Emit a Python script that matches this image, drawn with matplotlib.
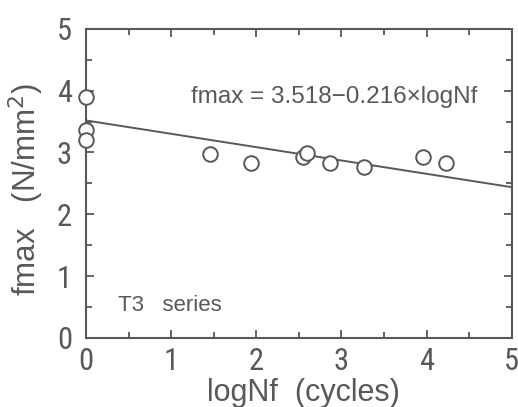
import numpy as np
import matplotlib.pyplot as plt
from matplotlib.ticker import MultipleLocator

plt.rcParams['font.family'] = ['Liberation Sans', 'DejaVu Sans']

# data
log_nf = [0.0, 0.0, 0.0, 1.46, 1.94, 2.55, 2.59, 2.86, 3.27, 3.96, 4.23]
fmax = [3.90, 3.37, 3.20, 2.98, 2.83, 2.93, 2.99, 2.83, 2.77, 2.93, 2.83]
a, b = 3.518, -0.216  # fitted line
x_ticks = [0, 1, 2, 3, 4, 5]
y_ticks = [0, 1, 2, 3, 4, 5]

col = '#585858'

fig = plt.figure(figsize=(5.18, 4.07), dpi=100)
ax = fig.add_axes([0.166, 0.170, 0.822, 0.759])

xl = np.array([0, 5])
ax.plot(xl, a + b * xl, color=col, lw=1.4, zorder=2)
ax.plot(log_nf, fmax, 'o', mfc='white', mec=col, mew=1.4, ms=10.5,
        clip_on=False, zorder=3)

ax.set_xlim(0, 5)
ax.set_ylim(0, 5)
ax.set_xticks(x_ticks)
ax.set_yticks(y_ticks)
ax.xaxis.set_minor_locator(MultipleLocator(0.5))
ax.yaxis.set_minor_locator(MultipleLocator(0.5))
ax.tick_params(which='both', direction='in', top=True, right=True,
               color=col, width=1.3)
ax.tick_params(which='major', length=6, labelsize=22, labelcolor=col,
               labelfontfamily='Roboto Condensed')
ax.tick_params(which='minor', length=4)
ax.tick_params(axis='x', pad=6.5)
ax.tick_params(axis='y', pad=10)
for s in ax.spines.values():
    s.set_color(col)
    s.set_linewidth(1.5)

ax.set_xlabel('logNf  (cycles)', fontsize=22, color=col)
ax.xaxis.set_label_coords(0.51, -0.204)
ax.xaxis.label.set_va('baseline')
ax.set_ylabel('fmax   (N/mm$^2$)', fontsize=22.5, color=col)
ax.yaxis.set_label_coords(-0.095, 0.48)

ax.text(2.91, 3.9, 'fmax = 3.518\u22120.216\u00d7logNf', fontsize=17.5, color=col,
        ha='center', va='center')
ax.text(0.375, 0.53, 'T3   series', fontsize=16, color=col, ha='left', va='center')

fig.savefig('out.png', dpi=100)
